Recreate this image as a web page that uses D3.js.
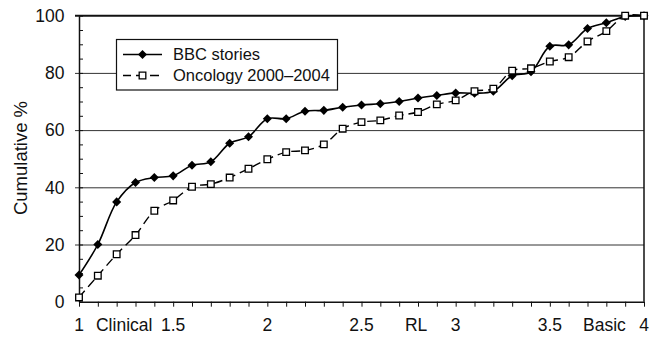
<!DOCTYPE html>
<html>
<head>
<meta charset="utf-8">
<script src="https://cdn.jsdelivr.net/npm/d3@7"></script>
<style>
  html, body { margin: 0; padding: 0; background: #fff; }
  svg { display: block; font-family: "Liberation Sans", Arial, Helvetica, sans-serif; }
</style>
</head>
<body>
<svg id="chart" width="659" height="337"></svg>
<script>
// Research-level score (1 = clinical ... 4 = basic), sampled every 0.1
const scores = d3.range(0, 31).map(i => +(1 + i * 0.1).toFixed(1));

// Cumulative percentage of items at or below each score
const bbcStories = [9.3, 20.0, 34.9, 41.7, 43.4, 44.0, 47.7, 48.9, 55.4, 57.7,
                    64.0, 64.0, 66.6, 66.9, 68.0, 68.8, 69.2, 70.0, 71.2, 72.1,
                    73.0, 72.9, 73.6, 79.0, 80.4, 89.3, 89.8, 95.5, 97.5, 99.7, 100];
const oncology = [1.5, 9.1, 16.6, 23.3, 31.8, 35.4, 40.2, 41.1, 43.4, 46.5,
                  49.8, 52.3, 52.9, 55.0, 60.5, 62.8, 63.4, 65.1, 66.3, 69.0,
                  70.4, 73.6, 74.5, 80.8, 81.6, 84.0, 85.5, 91.0, 94.6, 100, 100];

const seriesNames = ["BBC stories", "Oncology 2000\u20132004"];
const xTickLabels = [1, 1.5, 2, 2.5, 3, 3.5, 4];
const stageNames = ["Clinical", "RL", "Basic"];
const stageScores = [1.24, 2.79, 3.79];
const yTickLabels = [0, 20, 40, 60, 80, 100];

const svg = d3.select("#chart");
const plotLeft = 79, plotRight = 644, plotTop = 15.7, plotBottom = 301.7;

const x = d3.scaleLinear().domain([1, 4]).range([plotLeft, plotRight]);
const y = d3.scaleLinear().domain([0, 100]).range([plotBottom, plotTop]);

// Horizontal gridlines with short outward ticks
svg.append("g")
  .attr("transform", `translate(${plotLeft},0)`)
  .call(d3.axisLeft(y).tickValues(yTickLabels.filter(v => v > 0 && v < 100))
        .tickSizeOuter(0).tickFormat(""))
  .call(g => g.select(".domain").remove())
  .call(g => g.selectAll(".tick line").attr("stroke", "#333").attr("stroke-width", 1)
        .attr("x1", -4).attr("x2", plotRight - plotLeft));

// Top border at 100%
svg.append("line")
  .attr("x1", plotLeft - 4).attr("x2", plotRight)
  .attr("y1", y(100)).attr("y2", y(100))
  .attr("stroke", "#111").attr("stroke-width", 2);

// Right border
svg.append("line")
  .attr("x1", plotRight).attr("x2", plotRight)
  .attr("y1", y(100)).attr("y2", y(0))
  .attr("stroke", "#111").attr("stroke-width", 1.5);

// Y axis with minor inward ticks every 5%
svg.append("g")
  .attr("transform", `translate(${plotLeft},0)`)
  .call(d3.axisRight(y).tickValues(d3.range(0, 101, 5)).tickSize(4).tickSizeOuter(0).tickFormat(""))
  .call(g => g.select(".domain").attr("stroke", "#111").attr("stroke-width", 1.5))
  .call(g => g.selectAll(".tick line").attr("stroke", "#111"));

// Y tick labels
svg.append("g")
  .selectAll("text")
  .data(yTickLabels)
  .join("text")
  .attr("x", 64.5)
  .attr("y", d => y(d))
  .attr("dy", "0.36em")
  .attr("text-anchor", "end")
  .attr("font-size", 17.5)
  .attr("fill", "#111")
  .text(d => d);

// Y axis title
svg.append("text")
  .attr("transform", `translate(27,158) rotate(-90)`)
  .attr("text-anchor", "middle")
  .attr("font-size", 18.5)
  .attr("fill", "#111")
  .text("Cumulative %");

// X axis with ticks every 0.1
svg.append("g")
  .attr("transform", `translate(0,${plotBottom})`)
  .call(d3.axisBottom(x).tickValues(scores).tickSize(5).tickSizeOuter(0).tickFormat(""))
  .call(g => g.select(".domain").attr("stroke", "#111").attr("stroke-width", 1.5))
  .call(g => g.selectAll(".tick line").attr("stroke", "#111"));

// X tick labels: numeric scores and stage names
const xLabels = xTickLabels.map(v => ({ text: String(v), at: v }))
  .concat(stageNames.map((n, i) => ({ text: n, at: stageScores[i] })));
svg.append("g")
  .selectAll("text")
  .data(xLabels)
  .join("text")
  .attr("x", d => x(d.at))
  .attr("y", 331)
  .attr("text-anchor", "middle")
  .attr("font-size", 17.5)
  .attr("fill", "#111")
  .text(d => d.text);

// Series lines
const line = d3.line()
  .x((d, i) => x(scores[i]))
  .y(d => y(d))
  .curve(d3.curveCatmullRom.alpha(0.5));

svg.append("path")
  .datum(bbcStories)
  .attr("d", line)
  .attr("fill", "none")
  .attr("stroke", "#000")
  .attr("stroke-width", 1.6);

svg.append("path")
  .datum(oncology)
  .attr("d", line)
  .attr("fill", "none")
  .attr("stroke", "#000")
  .attr("stroke-width", 1.4)
  .attr("stroke-dasharray", "9,5");

const diamond = d3.symbol().type(d3.symbolDiamond2).size(52);
const square = d3.symbol().type(d3.symbolSquare).size(44);

// BBC markers: filled diamonds
svg.append("g")
  .selectAll("path")
  .data(bbcStories)
  .join("path")
  .attr("transform", (d, i) => `translate(${x(scores[i])},${y(d)})`)
  .attr("d", diamond)
  .attr("fill", "#000");

// Oncology markers: open squares
svg.append("g")
  .selectAll("path")
  .data(oncology)
  .join("path")
  .attr("transform", (d, i) => `translate(${x(scores[i])},${y(d)})`)
  .attr("d", square)
  .attr("fill", "#fff")
  .attr("stroke", "#000")
  .attr("stroke-width", 1.3);

// Legend
const legend = svg.append("g");
legend.append("rect")
  .attr("x", 116.5).attr("y", 39.5)
  .attr("width", 221).attr("height", 50.5)
  .attr("fill", "#fff").attr("stroke", "#111").attr("stroke-width", 1.2);

const legendRows = [54.5, 75.5];
seriesNames.forEach((name, i) => {
  const yy = legendRows[i];
  legend.append("line")
    .attr("x1", 123).attr("x2", 162).attr("y1", yy).attr("y2", yy)
    .attr("stroke", "#000").attr("stroke-width", i === 0 ? 1.6 : 1.4)
    .attr("stroke-dasharray", i === 0 ? null : "9,5")
    .attr("stroke-dashoffset", i === 0 ? null : 1);
  legend.append("path")
    .attr("transform", `translate(142.5,${yy})`)
    .attr("d", i === 0 ? diamond : square)
    .attr("fill", i === 0 ? "#000" : "#fff")
    .attr("stroke", i === 0 ? "none" : "#000")
    .attr("stroke-width", 1.3);
  legend.append("text")
    .attr("x", 173).attr("y", yy)
    .attr("dy", "0.36em")
    .attr("font-size", 16.5)
    .attr("fill", "#111")
    .text(name);
});
</script>
</body>
</html>
